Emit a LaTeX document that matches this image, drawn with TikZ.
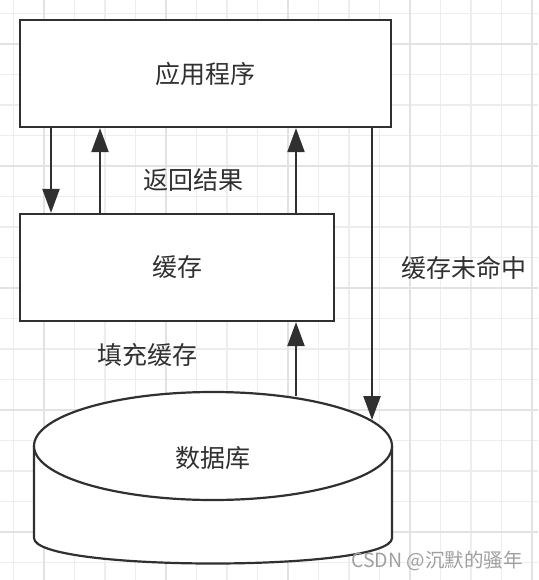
\documentclass[tikz,border=0pt]{standalone}
\usepackage{fontspec}
\setmainfont{Noto Sans CJK SC}
\usepackage{tikz}
\usetikzlibrary{arrows.meta}
\definecolor{ink}{HTML}{303030}
\definecolor{gridminor}{HTML}{EDEDED}
\definecolor{gridmajor}{HTML}{E2E2E2}

\begin{document}
\begin{tikzpicture}[x=1pt,y=-1pt,
  box/.style={draw=ink,line width=2.2pt,fill=white,inner sep=0pt,font=\fontsize{25}{29}\selectfont,text=ink},
  lbl/.style={inner sep=0pt,font=\fontsize{25}{29}\selectfont,text=ink},
  arr/.style={draw=ink,line width=2.2pt,-{Triangle[length=24pt,width=17pt]}}]
\useasboundingbox (0,0) rectangle (538,580);
% grid
\foreach \k in {0,...,18} \draw[gridminor,line width=1.5pt] (0,13.5+30.5*\k) -- (538,13.5+30.5*\k);
\foreach \k in {0,...,17} \draw[gridminor,line width=1.5pt] (13.5+30.5*\k,0) -- (13.5+30.5*\k,580);
\foreach \k in {1,5,9,13,17} {
  \draw[gridmajor,line width=1.8pt] (0,13.5+30.5*\k) -- (538,13.5+30.5*\k);
  \draw[gridmajor,line width=1.8pt] (13.5+30.5*\k,0) -- (13.5+30.5*\k,580);
}
% boxes
\node[box,minimum width=371pt,minimum height=107pt] (app) at (205.5,73.5) {应用程序};
\node[box,minimum width=314pt,minimum height=107pt] (cache) at (177,267.5) {缓存};
% database
\draw[ink,line width=2.2pt,fill=white] (34,446) -- (34,538) .. controls (34,572) and (392,572) .. (392,538) -- (392,446);
\draw[ink,line width=2.2pt,fill=white] (213,446) ellipse [x radius=179, y radius=54];
\node[lbl] (db) at (213,458) {数据库};
% arrow positions
\coordinate (dn) at (51,0);
\coordinate (up1) at (100,0);
\coordinate (up2) at (296,0);
\coordinate (miss) at (372,0);
\coordinate (dbout) at (296,396);
\coordinate (dbin) at (372,420);
\draw[arr] (app.south -| dn) -- (cache.north -| dn);
\draw[arr] (cache.north -| up1) -- (app.south -| up1);
\draw[arr] (cache.north -| up2) -- (app.south -| up2);
\draw[arr] (dbout) -- (cache.south -| up2);
\draw[arr] (app.south -| miss) -- (dbin);
% labels
\node[lbl] (ret) at (193.5,180) {返回结果};
\node[lbl] (fill) at (147.5,355) {填充缓存};
\node[lbl] (missed) at (464,268) {缓存未命中};
\node[inner sep=0pt,font=\fontsize{19.5}{22}\selectfont,text=gray!75] (mark) at (437,561) {CSDN @沉默的骚年};
\end{tikzpicture}
\end{document}
